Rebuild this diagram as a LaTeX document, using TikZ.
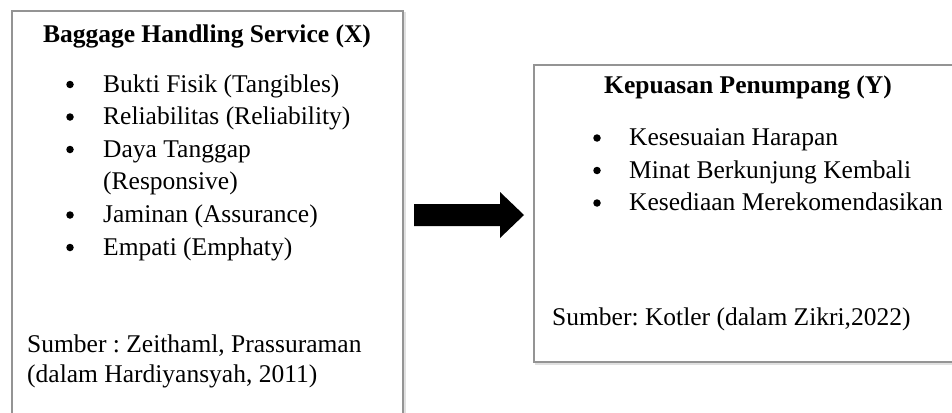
\documentclass[tikz,border=0pt]{standalone}
\usepackage{fontspec}
\setmainfont{Liberation Serif}
\frenchspacing
\begin{document}
\begin{tikzpicture}[x=1pt,y=-1pt,
  boxframe/.style={draw=black!42,line width=2pt,fill=white},
  txt/.style={inner sep=0pt,anchor=base west,font=\fontsize{25.5}{30}\selectfont},
  ttl/.style={inner sep=0pt,anchor=base,font=\fontsize{25.5}{30}\selectfont\bfseries},
  bul/.style={circle,fill=black,inner sep=0pt,minimum size=7.5pt}]
\useasboundingbox (0,0) rectangle (952,412);
\fill[white] (0,0) rectangle (952,412);
\begin{scope}
\clip (0,0) rectangle (952,412);
% shadows
\draw[black!12,line width=2pt] (14,13) rectangle (405,430);
\draw[black!12,line width=2pt] (536,67) rectangle (980,364);
\draw[boxframe] (12,11) rectangle (403,430);
\draw[boxframe] (534,65) rectangle (970,362);
\end{scope}
% left box
\node[ttl] (lt) at (207,43) {Baggage Handling Service (X)};
\node[bul] (lb1) at (70,84.5) {};
\node[txt] (l1) at (103,92) {Bukti Fisik (Tangibles)};
\node[bul] (lb2) at (70,117) {};
\node[txt] (l2) at (103,124.5) {Reliabilitas (Reliability)};
\node[bul] (lb3) at (70,149.5) {};
\node[txt] (l3) at (103,157) {Daya Tanggap};
\node[txt] (l3b) at (103,189) {(Responsive)};
\node[bul] (lb4) at (70,215) {};
\node[txt] (l4) at (103,222.5) {Jaminan (Assurance)};
\node[bul] (lb5) at (70,247.5) {};
\node[txt] (l5) at (103,255) {Empati (Emphaty)};
\node[txt] (ls1) at (27,352.5) {Sumber : Zeithaml, Prassuraman};
\node[txt] (ls2) at (27,382.5) {(dalam Hardiyansyah, 2011)};
% arrow
\fill[black] (414,204) -- (500,204) -- (500,192) -- (524,215) -- (500,238) -- (500,226) -- (414,226) -- cycle;
% right box
\node[ttl] (rt) at (748,93) {Kepuasan Penumpang (Y)};
\node[bul] (rb1) at (597,138) {};
\node[txt] (r1) at (629,145.5) {Kesesuaian Harapan};
\node[bul] (rb2) at (597,170.5) {};
\node[txt] (r2) at (629,178) {Minat Berkunjung Kembali};
\node[bul] (rb3) at (597,203) {};
\node[txt] (r3) at (629,210.5) {Kesediaan Merekomendasikan};
\node[txt] (rs) at (552,325) {Sumber: Kotler (dalam Zikri,2022)};
\end{tikzpicture}
\end{document}
